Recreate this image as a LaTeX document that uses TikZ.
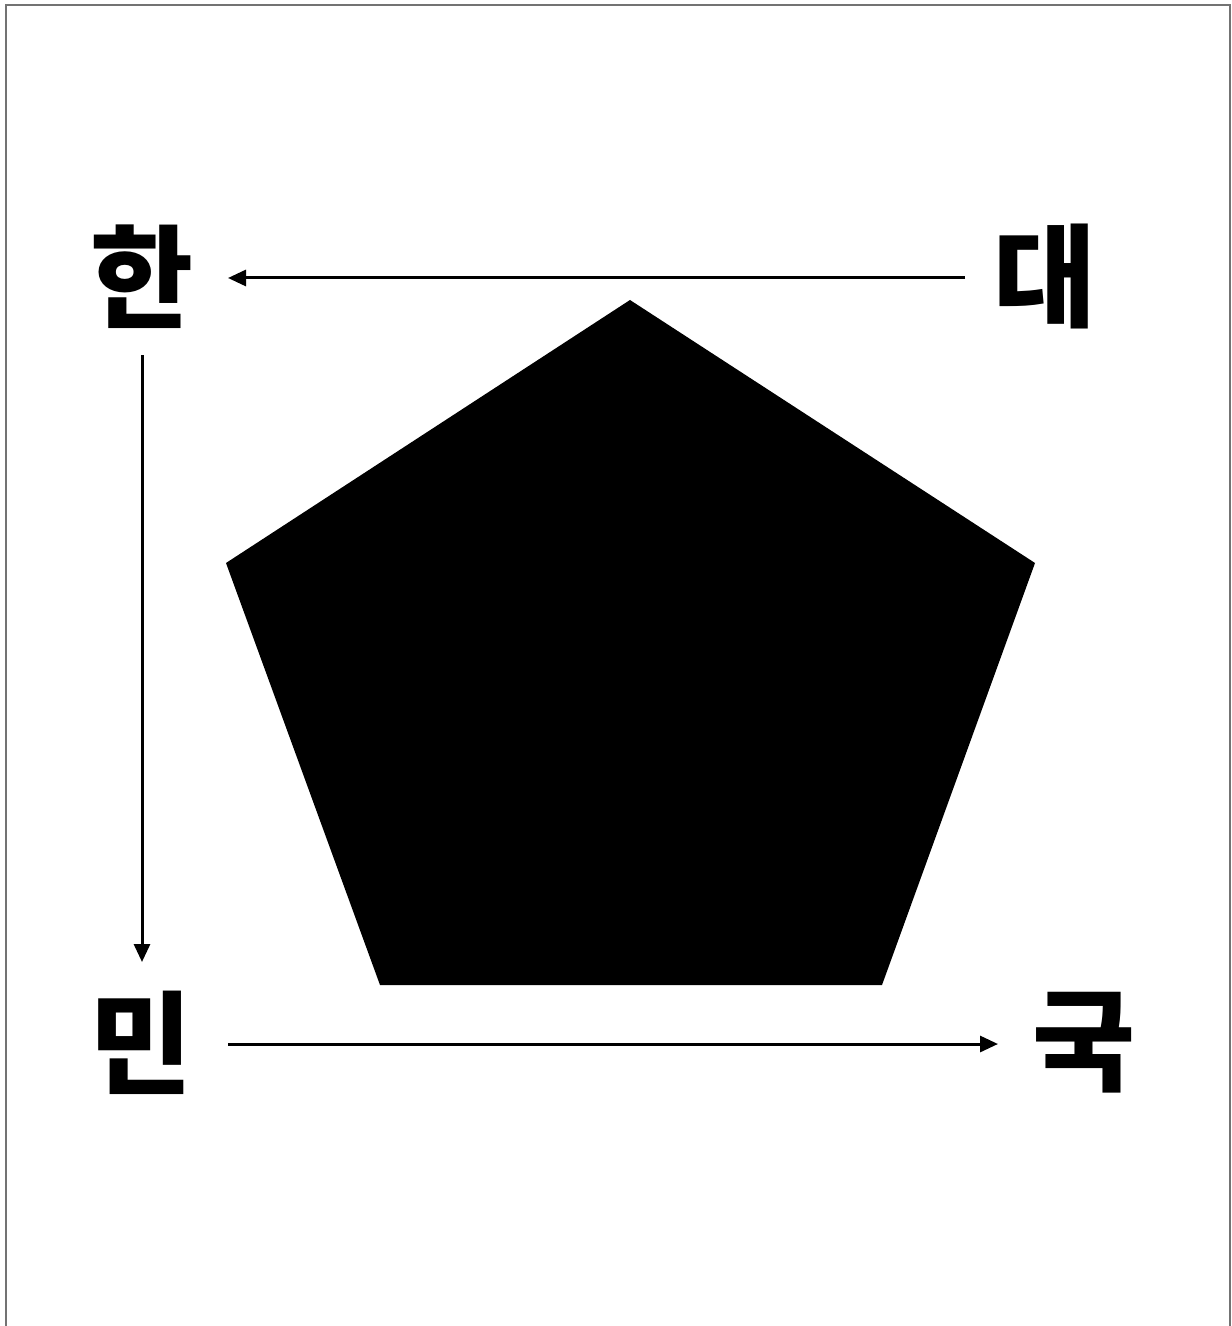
\documentclass[tikz,border=0pt]{standalone}
\usepackage{fontspec}
\newfontfamily\kr{Noto Sans CJK KR}
\usetikzlibrary{arrows.meta}
\begin{document}
\begin{tikzpicture}[x=0.5pt,y=-0.5pt,
  glyph/.style={font=\kr\bfseries\fontsize{56pt}{60pt}\selectfont, inner sep=0pt, anchor=center},
  conn/.style={line width=1.5pt, -{Triangle[length=9pt,width=8pt]}},
  frame/.style={draw=black!55, line width=1pt}]
\useasboundingbox (0,0) rectangle (1231,1326);
\draw[frame] (6,1326) -- (6,5) -- (1230,5) -- (1230,1326);
\fill[black] (630,300) -- (1035,563) -- (882,985) -- (380,985) -- (226,563) -- cycle;
\node[glyph] (han) at (142,277) {한};
\node[glyph] (dae) at (1045,277) {대};
\node[glyph] (min) at (141,1043) {민};
\node[glyph] (guk) at (1084,1043) {국};
\draw[conn] ([xshift=-40pt,yshift=-0.5pt]dae.center) -- ([xshift=43pt,yshift=-0.5pt]han.center);
\draw[conn] ([yshift=-39pt]han.center) -- ([yshift=40.5pt]han.center |- min.center);
\draw[conn] ([xshift=43.5pt,yshift=-0.5pt]min.center) -- ([xshift=-43pt,yshift=-0.5pt]guk.center);
\end{tikzpicture}
\end{document}
